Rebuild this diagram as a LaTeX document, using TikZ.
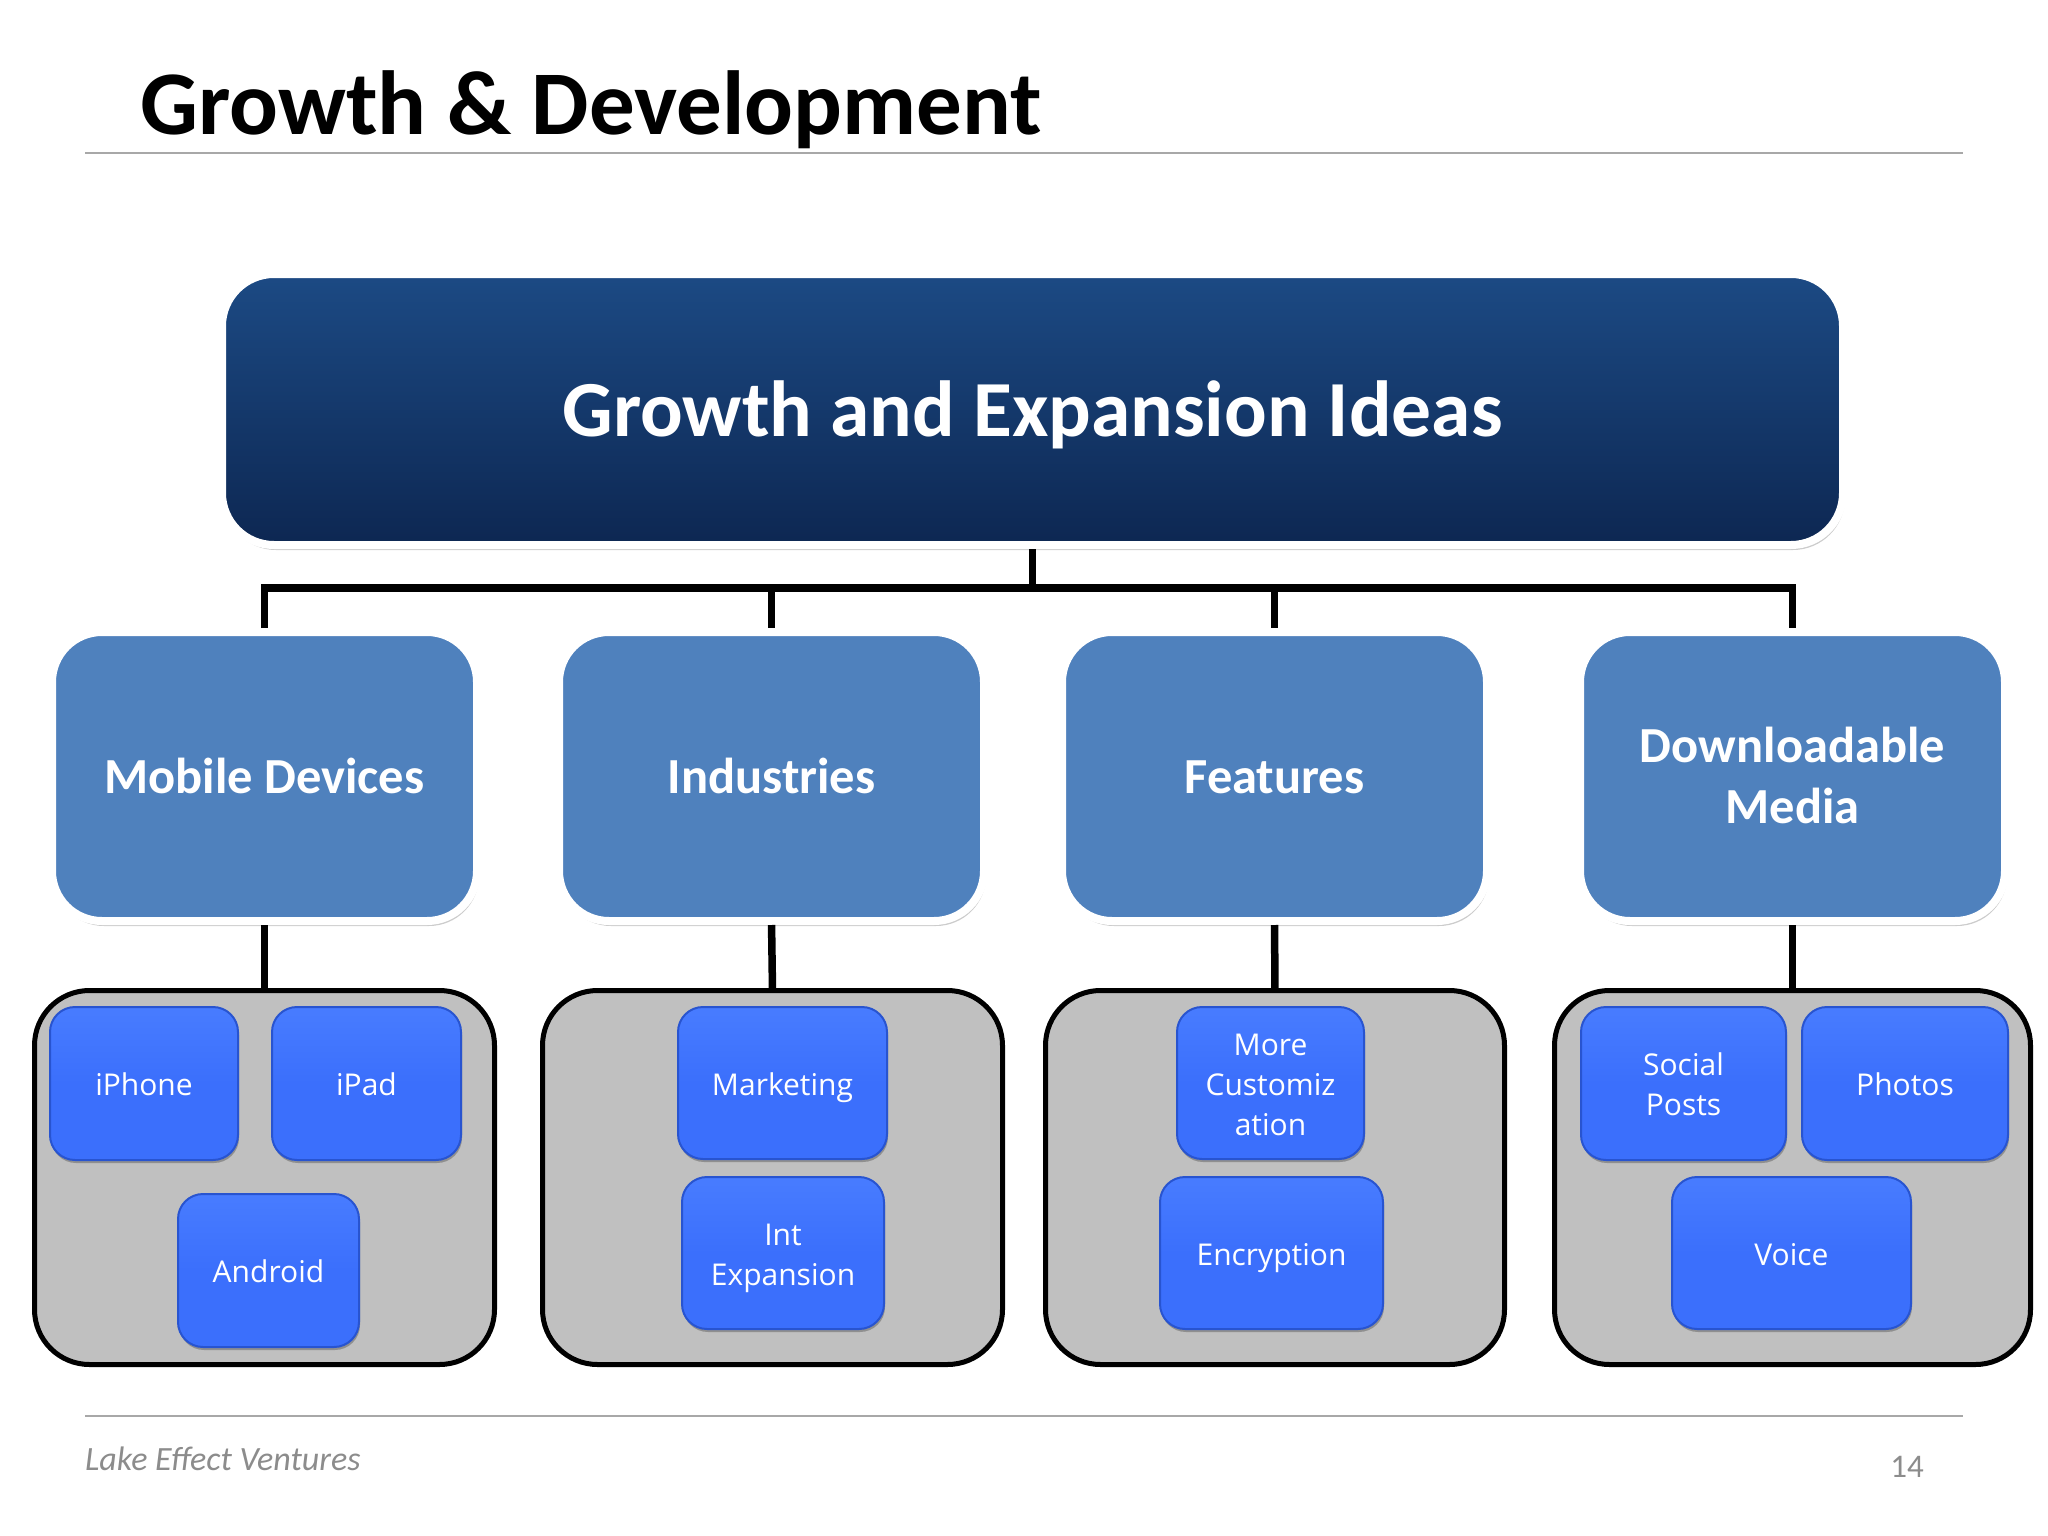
\documentclass[tikz,border=0pt]{standalone}
\usepackage{fontspec}
\setmainfont{Carlito}
\newfontfamily\itemfont{Open Sans}
\usetikzlibrary{shadows}

\definecolor{navytop}{RGB}{28,74,132}
\definecolor{navybot}{RGB}{13,39,82}
\definecolor{midblue}{RGB}{79,129,189}
\definecolor{brightblue}{RGB}{59,111,252}
\definecolor{brighttop}{RGB}{72,124,255}
\definecolor{brightedge}{RGB}{40,84,208}
\definecolor{groupgray}{RGB}{192,192,192}
\definecolor{rulegray}{RGB}{168,168,168}
\definecolor{footgray}{RGB}{140,140,140}

\begin{document}
\begin{tikzpicture}[x=1pt,y=-1pt,
  rootbox/.style={rounded corners=52pt, top color=navytop, bottom color=navybot,
    draw=white, line width=8pt, minimum width=1621pt, minimum height=271pt,
    inner sep=0pt, outer sep=0pt, text=white, text height=53pt, text depth=0pt,
    font=\bfseries\fontsize{79.5}{95}\selectfont,
    general shadow={fill=black, opacity=0.2, shadow xshift=2pt, shadow yshift=-5pt}},
  catbox/.style={rounded corners=50pt, fill=midblue, draw=white, line width=8pt,
    minimum width=425pt, minimum height=289pt, inner sep=0pt, outer sep=0pt,
    text=white, align=center, font=\bfseries\fontsize{50.5}{61}\selectfont,
    text height=33pt, text depth=0pt,
    general shadow={fill=black, opacity=0.2, shadow xshift=2pt, shadow yshift=-5pt}},
  cattwo/.style={text height=94pt},
  groupbox/.style={rounded corners=55pt, fill=groupgray, draw=black, line width=5pt,
    minimum height=374pt, inner sep=0pt, outer sep=0pt},
  itembox/.style={rounded corners=25pt, top color=brighttop, bottom color=brightblue,
    middle color=brightblue, draw=brightedge, line width=2pt,
    text=white, align=center, font=\itemfont\fontsize{30}{40}\selectfont,
    inner sep=0pt, outer sep=0pt, text height=24pt, text depth=0pt,
    general shadow={fill=black, opacity=0.25, shadow xshift=1pt, shadow yshift=-3pt}},
  itemtwo/.style={text height=64pt},
  itemthree/.style={text height=104pt},
  conn/.style={draw=black, line width=7.5pt, line join=miter},
  rulestyle/.style={draw=rulegray, line width=2.5pt},
]
\fill[white] (0,0) rectangle (2048,1536);
\useasboundingbox (0,0) rectangle (2048,1536);

% title and rules
\node[anchor=base west, inner sep=0pt, font=\bfseries\fontsize{91}{109}\selectfont] (title) at (140,135) {Growth \& Development};
\coordinate (hl) at (85,153);
\coordinate (hr) at (1963,153);
\draw[rulestyle] (hl) -- (hr);
\coordinate (fl) at (85,1416);
\coordinate (fr) at (1963,1416);
\draw[rulestyle] (fl) -- (fr);
\node[anchor=base west, inner sep=0pt, text=footgray, font=\itshape\fontsize{34}{40}\selectfont] (footer) at (85,1470) {Lake Effect Ventures};
\node[anchor=base east, inner sep=0pt, text=footgray, font=\fontsize{33}{40}\selectfont] (pnum) at (1924,1477) {14};

% root
\node[rootbox] (root) at (1032.5,409.5) {Growth and Expansion Ideas};

% categories
\node[catbox] (md) at (264.5,776.5) {Mobile Devices};
\node[catbox] (ind) at (771.5,776.5) {Industries};
\node[catbox] (feat) at (1274.5,776.5) {Features};
\node[catbox, cattwo] (dm) at (1792.5,776.5) {Downloadable\\Media};

% groups
\node[groupbox, minimum width=460pt] (g1) at (264.5,1177.5) {};
\node[groupbox, minimum width=460pt] (g2) at (772.5,1177.5) {};
\node[groupbox, minimum width=459pt] (g3) at (1275,1177.5) {};
\node[groupbox, minimum width=476pt] (g4) at (1792.5,1177.5) {};

% items
\node[itembox, minimum width=188pt, minimum height=153pt] (iphone) at (144,1083.5) {iPhone};
\node[itembox, minimum width=189pt, minimum height=153pt] (ipad) at (366.5,1083.5) {iPad};
\node[itembox, minimum width=181pt, minimum height=153pt] (android) at (268.5,1270.5) {Android};
\node[itembox, minimum width=209pt, minimum height=152pt] (mkt) at (782.5,1083) {Marketing};
\node[itembox, itemtwo, minimum width=202pt, minimum height=152pt] (intexp) at (783,1253) {Int\\Expansion};
\node[itembox, itemthree, minimum width=187pt, minimum height=152pt] (custom) at (1270.5,1083) {More\\Customiz\\ation};
\node[itembox, minimum width=223pt, minimum height=152pt] (encr) at (1271.5,1253) {Encryption};
\node[itembox, itemtwo, minimum width=205pt, minimum height=153pt] (social) at (1683.5,1083.5) {Social\\Posts};
\node[itembox, minimum width=206pt, minimum height=153pt] (photos) at (1905,1083.5) {Photos};
\node[itembox, minimum width=239pt, minimum height=152pt] (voice) at (1791.5,1253) {Voice};

% connectors
\coordinate (bus) at (1032.5,588);
\draw[conn, shorten <=4pt] (root.south) -- (bus);
\draw[conn, shorten <=4pt, shorten >=4pt] (md.north) |- (bus) -| (dm.north);
\draw[conn, shorten >=4pt] (bus -| ind.north) -- (ind.north);
\draw[conn, shorten >=4pt] (bus -| feat.north) -- (feat.north);
\draw[conn, shorten <=4pt] (md.south) -- (g1.north);
\draw[conn, shorten <=4pt] (ind.south) -- (g2.north);
\draw[conn, shorten <=4pt] (feat.south) -- (g3.north);
\draw[conn, shorten <=4pt] (dm.south) -- (g4.north);
\end{tikzpicture}
\end{document}
